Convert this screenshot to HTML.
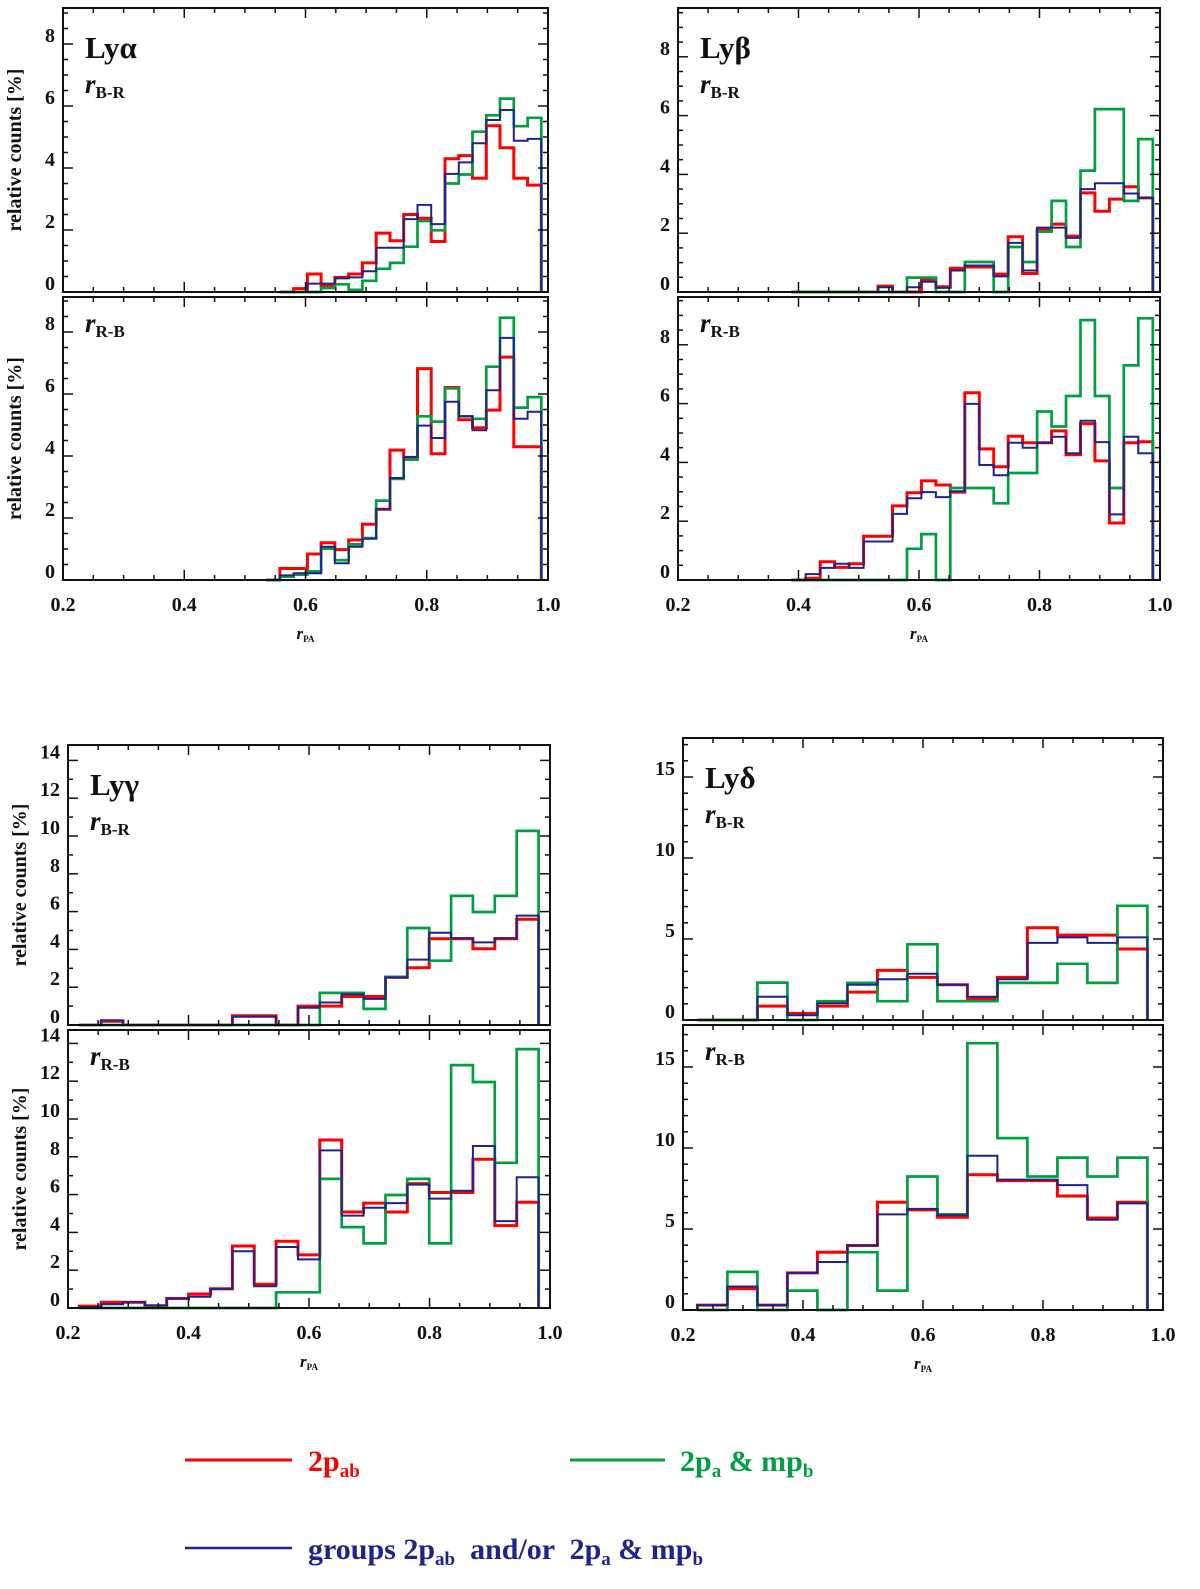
<!DOCTYPE html>
<html><head><meta charset="utf-8">
<style>
body{margin:0;background:#fff;}
svg{display:block;font-family:"Liberation Serif",serif;}
.tl{font-size:20px;font-weight:bold;fill:#111;}
</style></head>
<body>
<svg id="fig" width="1200" height="1589" viewBox="0 0 1200 1589" xmlns="http://www.w3.org/2000/svg">
<rect width="1200" height="1589" fill="#fff"/>
<g id="plots"></g>
<g>
  <line x1="185" y1="1460" x2="292" y2="1460" stroke="#ff0000" stroke-width="3"/>
  <text x="308" y="1471" font-size="30" font-weight="bold" fill="#ff0000">2p<tspan font-size="19" dy="6">ab</tspan></text>
  <line x1="570" y1="1460" x2="665" y2="1460" stroke="#00a040" stroke-width="3"/>
  <text x="680" y="1471" font-size="30" font-weight="bold" fill="#00a040">2p<tspan font-size="19" dy="6">a</tspan><tspan dy="-6"> &amp; mp</tspan><tspan font-size="19" dy="6">b</tspan></text>
  <line x1="185" y1="1548" x2="292" y2="1548" stroke="#1f248c" stroke-width="2.5"/>
  <text x="308" y="1559" font-size="30" font-weight="bold" fill="#1f248c" xml:space="preserve">groups 2p<tspan font-size="19" dy="6">ab</tspan><tspan dy="-6">  and/or  2p</tspan><tspan font-size="19" dy="6">a</tspan><tspan dy="-6"> &amp; mp</tspan><tspan font-size="19" dy="6">b</tspan></text>
</g>
</svg>
<script>
// ---- Data (values in %, bins ordered left -> right) ----
const aUpRed=[0,0.11,0.58,0.21,0.47,0.58,0.94,1.9,1.65,2.5,2.38,1.63,4.3,4.4,3.67,5.36,4.65,3.67,3.45];
const aUpGreen=[0,0,0,0.13,0.25,0.07,0.36,0.75,0.94,1.46,2.29,1.99,3.5,3.79,5.17,5.7,6.24,5.35,5.62];
const aUpBlue=[0,0,0.27,0.27,0.44,0.47,0.67,1.43,1.43,2.35,2.81,2.19,3.81,4.18,4.8,5.55,5.87,4.88,4.94];
const aLoRed=[0,0.37,0.37,0.84,1.2,0.98,1.29,1.8,2.28,4.19,3.93,6.82,4.07,6.21,5.17,4.91,5.48,7.19,4.3,4.3];
const aLoGreen=[0,0.11,0.17,0.28,1.01,0.64,1.15,1.35,2.56,3.26,3.88,5.28,5.11,6.18,5.28,5.2,6.88,8.46,5.56,5.9];
const aLoBlue=[0,0.15,0.22,0.22,1.07,0.54,1.07,1.33,2.28,3.29,3.97,4.98,4.58,5.75,5.28,4.83,6.12,7.81,5.2,5.43];

const bUpRed=[0,0,0,0,0,0,0.2,0,0,0.41,0.18,0.81,0.85,0.85,0.61,1.88,0.63,2.11,2.31,1.9,3.37,2.75,3.16,3.58,3.2];
const bUpGreen=[0,0,0,0,0,0,0,0,0.49,0.49,0,0,1.02,1.02,0,1.53,1.02,2.05,3.1,1.53,4.13,6.22,6.22,3.1,5.2];
const bUpBlue=[0,0,0,0,0,0,0.16,0,0.16,0.35,0.14,0.73,0.9,0.9,0.53,1.67,0.73,2.19,2.19,1.84,3.5,3.7,3.7,3.35,3.2];
const bLoRed=[0,0.06,0.62,0.43,0.55,1.49,1.49,2.52,2.97,3.37,3.23,2.99,6.37,4.46,3.85,4.89,4.67,4.67,5.07,4.26,5.32,4.05,1.94,4.67,4.7];
const bLoGreen=[0,0,0,0,0,0,0,0,1.06,1.56,0,3.13,3.13,3.13,2.61,3.64,3.64,5.73,5.22,6.26,8.84,6.26,3.13,7.3,8.9];
const bLoBlue=[0,0.2,0.41,0.55,0.41,1.31,1.31,2.25,2.78,2.99,2.82,3.02,5.99,3.91,3.56,4.67,4.5,4.67,4.87,4.31,5.42,4.69,2.23,4.87,4.31];

const gUpRed=[0,0.2,0,0,0,0,0,0.49,0.49,0,1.0,1.0,1.51,1.51,2.52,3.03,4.56,4.56,4.03,4.56,5.6];
const gUpGreen=[0,0,0,0,0,0,0,0,0,0,0,1.7,1.7,0.85,2.55,5.13,3.4,6.83,5.98,6.83,10.27];
const gUpBlue=[0,0.25,0,0,0,0,0,0.44,0.44,0,0.91,1.19,1.63,1.38,2.52,3.46,4.88,4.6,4.37,4.6,5.79];
const gLoRed=[0.1,0.3,0.3,0.1,0.5,0.74,1.02,3.28,1.26,3.53,2.81,8.89,5.08,5.55,5.08,6.58,6.11,6.11,7.87,4.36,5.6];
const gLoGreen=[0,0,0,0,0,0,0,0,0,0.83,0.83,6.83,4.28,3.42,5.98,6.83,3.42,12.85,11.96,7.68,13.7];
const gLoBlue=[0.05,0.2,0.3,0.15,0.5,0.6,1.0,3.0,1.15,3.23,2.57,8.34,4.89,5.3,5.55,6.53,5.79,6.2,8.57,4.6,6.92];

const dUpRed=[0,0,0.86,0.41,0.86,1.72,3.06,2.63,2.18,1.32,2.63,5.69,5.24,5.24,4.38];
const dUpGreen=[0,0,2.31,0,1.16,2.29,1.16,4.67,1.16,1.16,2.29,2.29,3.47,2.29,7.05];
const dUpBlue=[0,0,1.43,0.29,1.04,2.18,2.52,2.86,2.18,1.43,2.52,4.76,5.1,4.76,5.1];
const dLoRed=[0.3,1.31,0.3,2.29,3.57,3.98,6.65,6.18,5.72,8.35,7.99,7.99,7.04,5.68,6.65];
const dLoGreen=[0,2.35,0,1.2,0,3.57,1.2,8.24,5.9,16.47,10.61,8.24,9.41,8.24,9.41];
const dLoBlue=[0.3,1.45,0.3,2.29,2.96,3.98,5.9,6.24,5.86,9.52,8.05,8.05,7.71,5.57,6.58];

const xTickLabels=["0.2","0.4","0.6","0.8","1.0"];
const yTicksAB=[0,2,4,6,8];
const yTicksG=[0,2,4,6,8,10,12,14];
const yTicksD=[0,5,10,15];

const NS="http://www.w3.org/2000/svg";
const root=document.getElementById('plots');
function mk(tag,attrs,parent){const e=document.createElementNS(NS,tag);for(const k in attrs)e.setAttribute(k,attrs[k]);(parent||root).appendChild(e);return e;}

function panel(p){
  const g=mk('g',{});
  
  
  const xs=v=>p.x0+(v-0.2)/0.8*(p.x1-p.x0);
  const ys=v=>p.bot-v*p.ppu;
  // histograms
  p.series.forEach(s=>{
    const n=s.vals.length;const lo=p.last-n*p.w;
    let d='M'+Math.max(p.x0,xs(lo)).toFixed(1)+' '+ys(0);
    for(let i=0;i<n;i++){
      d+=' V'+ys(s.vals[i]).toFixed(1)+' H'+xs(lo+(i+1)*p.w).toFixed(1);
    }
    d+=' V'+ys(0);
    const path=mk('path',{d:d,fill:'none',stroke:s.c,'stroke-width':s.sw,'stroke-linejoin':'miter'},g);
    
    
  });
  // frame
  const fr=mk('rect',{x:p.x0,y:p.top,width:p.x1-p.x0,height:p.bot-p.top,fill:'none',stroke:'#111','stroke-width':2},g);
  
  
  // x ticks
  for(let k=0;k<=16;k++){
    const v=0.2+k*0.05;const x=xs(v);const L=(k%4===0)?10:5;
    mk('line',{x1:x,y1:p.bot,x2:x,y2:p.bot-L,stroke:'#111','stroke-width':1.5},g);
    mk('line',{x1:x,y1:p.top,x2:x,y2:p.top+L,stroke:'#111','stroke-width':1.5},g);
  }
  // y ticks
  for(let v=0;v<=p.ymax+1e-6;v+=p.minor){
    const y=ys(v);if(y<p.top)break;
    const isMaj=Math.abs(v/p.major-Math.round(v/p.major))<1e-6;const L=isMaj?10:5;
    mk('line',{x1:p.x0,y1:y,x2:p.x0+L,y2:y,stroke:'#111','stroke-width':1.5},g);
    mk('line',{x1:p.x1,y1:y,x2:p.x1-L,y2:y,stroke:'#111','stroke-width':1.5},g);
  }
  p.yt.forEach(v=>{
    const t=mk('text',{x:p.x0-8,y:ys(v)-9+7,'text-anchor':'end',class:'tl'},g);
    t.textContent=String(v);
    
    
  });
  if(p.xl){
    xTickLabels.forEach((s,i)=>{
      const t=mk('text',{x:xs(0.2+i*0.2),y:p.bot+31,'text-anchor':'middle',class:'tl'},g);
      t.textContent=s;
      
      
    });
    const xt=mk('text',{x:(p.x0+p.x1)/2+(p.xtOff||0),y:p.bot+59,'text-anchor':'middle','font-size':17,'font-weight':'bold','font-style':'italic',fill:'#111'},g);
    xt.innerHTML='r<tspan font-size="9" font-style="normal" dy="3">PA</tspan>';
    
    
  }
  if(p.ylab){
    const cy=(p.top+p.bot)/2;
    const t=mk('text',{x:p.x0-42,y:cy,'text-anchor':'middle',transform:'rotate(-90 '+(p.x0-42)+' '+cy+')','font-size':20,'font-weight':'bold',fill:'#111'},g);
    t.textContent='relative counts [%]';
    
    
  }
  if(p.title){
    const t=mk('text',{x:p.x0+22,y:p.top+50,'font-size':31,'font-weight':'bold',fill:'#111'},g);
    t.textContent=p.title;
    
    
  }
  const r=mk('text',{x:p.x0+22,y:p.top+(p.title?85:35),'font-size':27,'font-weight':'bold','font-style':'italic',fill:'#111'},g);
  r.innerHTML='r<tspan font-size="17" font-style="normal" dy="5">'+p.sub+'</tspan>';
  
  
}
const R='#ff0000',G='#00a040',B='#1f248c';
function S(r,g,b){return [{vals:r,c:R,sw:3,n:'series-2pab'},{vals:g,c:G,sw:2.7,n:'series-2pa-mpb'},{vals:b,c:B,sw:2,n:'series-groups'}];}

panel({name:'lya-upper',x0:63,x1:548,top:8,bot:292,ppu:31,ymax:9.1,minor:0.5,major:2,yt:yTicksAB,last:0.989,w:0.0227,series:S(aUpRed,aUpGreen,aUpBlue),title:'Lyα',sub:'B-R',ylab:true});
panel({name:'lya-lower',x0:63,x1:548,top:297,bot:580,ppu:31,ymax:9.1,minor:0.5,major:2,yt:yTicksAB,last:0.989,w:0.0227,series:S(aLoRed,aLoGreen,aLoBlue),sub:'R-B',ylab:true,xl:true});
panel({name:'lyb-upper',x0:678,x1:1160,top:8,bot:292,ppu:29.4,ymax:9.6,minor:0.5,major:2,yt:yTicksAB,last:0.988,w:0.024,series:S(bUpRed,bUpGreen,bUpBlue),title:'Lyβ',sub:'B-R'});
panel({name:'lyb-lower',x0:678,x1:1160,top:297,bot:580,ppu:29.4,ymax:9.6,minor:0.5,major:2,yt:yTicksAB,last:0.988,w:0.024,series:S(bLoRed,bLoGreen,bLoBlue),sub:'R-B',xl:true});
panel({name:'lyg-upper',x0:68,x1:550,top:745,bot:1025,ppu:18.9,ymax:14.8,minor:1,major:2,yt:yTicksG,last:0.981,w:0.0363,series:S(gUpRed,gUpGreen,gUpBlue),title:'Lyγ',sub:'B-R',ylab:true});
panel({name:'lyg-lower',x0:68,x1:550,top:1030,bot:1308,ppu:18.9,ymax:14.8,minor:1,major:2,yt:yTicksG,last:0.981,w:0.0363,series:S(gLoRed,gLoGreen,gLoBlue),sub:'R-B',ylab:true,xl:true});
panel({name:'lyd-upper',x0:683,x1:1163,top:738,bot:1020,ppu:16.2,ymax:17.4,minor:1,major:5,yt:yTicksD,last:0.974,w:0.05,series:S(dUpRed,dUpGreen,dUpBlue),title:'Lyδ',sub:'B-R'});
panel({name:'lyd-lower',x0:683,x1:1163,top:1025,bot:1310,ppu:16.2,ymax:17.5,minor:1,major:5,yt:yTicksD,last:0.974,w:0.05,series:S(dLoRed,dLoGreen,dLoBlue),sub:'R-B',xl:true});
</script>
</body></html>
